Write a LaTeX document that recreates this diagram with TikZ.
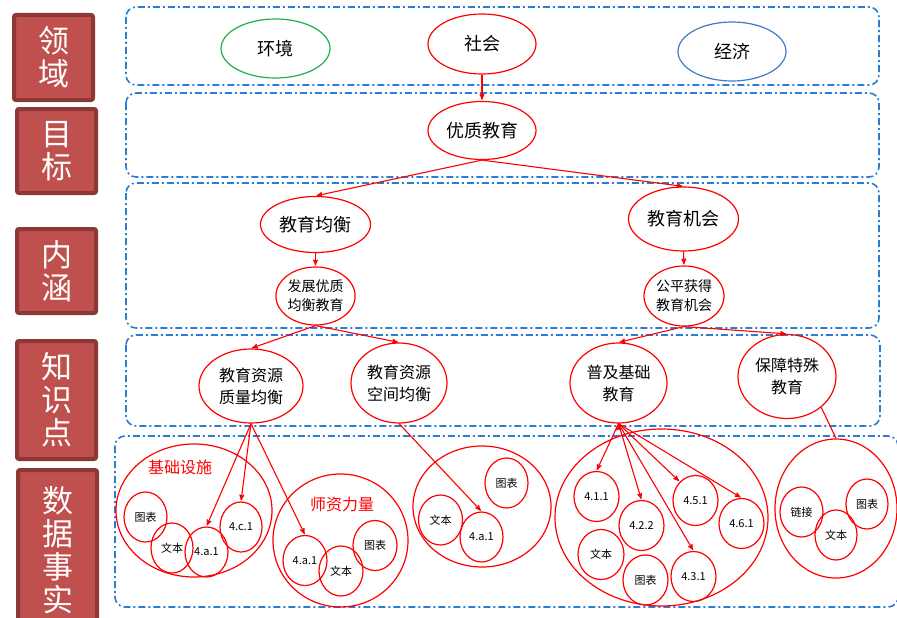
\documentclass[tikz,border=0pt]{standalone}
\usepackage{fontspec}
\setmainfont{Noto Sans CJK SC}
\usetikzlibrary{arrows,shapes.geometric}

\definecolor{boxfill}{HTML}{C0504D}
\definecolor{boxedge}{HTML}{8C3836}
\definecolor{laneblue}{HTML}{2A7DCF}
\definecolor{envgreen}{HTML}{1DB04E}
\definecolor{ecoblue}{HTML}{3C7BC0}

\begin{document}
\begin{tikzpicture}[x=1pt,y=-1pt,->,>=stealth',shorten >=1pt,
    level node/.style={rectangle,fill=boxfill,draw=boxedge,line width=4pt,
        rounded corners=2pt,text=white,align=center,inner sep=0pt,
        font=\fontsize{31}{33}\selectfont,minimum width=79pt},
    lane/.style={draw=laneblue,line width=1.6pt,rounded corners=10pt,
        dash pattern=on 7pt off 3pt on 2pt off 3pt},
    main node/.style={ellipse,draw=red,line width=1.2pt,inner sep=0pt,
        align=center,font=\fontsize{18}{20}\selectfont},
    sub node/.style={main node,font=\fontsize{14}{19}\selectfont},
    kp node/.style={main node,font=\fontsize{16}{22}\selectfont},
    group node/.style={ellipse,draw=red,line width=1.2pt,inner sep=0pt},
    fact node/.style={ellipse,draw=red,line width=1.2pt,inner sep=0pt,
        minimum width=44pt,minimum height=50pt,font=\fontsize{11}{12}\selectfont},
    group label/.style={text=red,font=\fontsize{16}{18}\selectfont}]

  \useasboundingbox (0,0) rectangle (897,618);

  % level boxes
  \node[level node,minimum height=85pt] (lvdomain) at (53.5,57.5) {领\\域};
  \node[level node,minimum height=84pt] (lvgoal) at (56.5,151) {目\\标};
  \node[level node,minimum height=84pt] (lvmeaning) at (56.5,271) {内\\涵};
  \node[level node,minimum height=118pt] (lvknow) at (56.5,400) {知\\识\\点};
  \node[level node,minimum height=160pt] (lvfact) at (57.5,550) {数\\据\\事\\实};

  % lanes
  \draw[lane,-] (126,7) rectangle (879,85);
  \draw[lane,-] (126,93) rectangle (879,177);
  \draw[lane,-] (126,183) rectangle (879,328);
  \draw[lane,-] (126,335) rectangle (880,426);
  \draw[lane,-] (115,436) rectangle (898,607);

  % domain and goal
  \node[main node,draw=envgreen,minimum width=109pt,minimum height=59pt] (huanjing) at (275.5,48.5) {环境};
  \node[main node,minimum width=108pt,minimum height=60pt] (shehui) at (482,44) {社会};
  \node[main node,draw=ecoblue,minimum width=108pt,minimum height=59pt] (jingji) at (732,51.5) {经济};
  \node[main node,minimum width=108pt,minimum height=58pt] (youzhi) at (482,130.5) {优质教育};

  % meaning
  \node[main node,minimum width=110pt,minimum height=56pt] (junheng) at (315.5,224.5) {教育均衡};
  \node[main node,minimum width=110pt,minimum height=64pt] (jihui) at (683.5,219) {教育机会};
  \node[sub node,minimum width=78pt,minimum height=58pt] (fazhan) at (315.5,296) {发展优质\\均衡教育};
  \node[sub node,minimum width=80pt,minimum height=60pt] (gongping) at (684,296) {公平获得\\教育机会};

  % knowledge points
  \node[kp node,minimum width=104pt,minimum height=74pt] (zhiliang) at (251,386) {教育资源\\质量均衡};
  \node[kp node,minimum width=96pt,minimum height=80pt] (kongjian) at (399,383) {教育资源\\空间均衡};
  \node[kp node,minimum width=97pt,minimum height=80pt] (puji) at (618.5,383) {普及基础\\教育};
  \node[kp node,minimum width=98pt,minimum height=84pt] (baozhang) at (787,376.5) {保障特殊\\教育};

  % fact groups
  \node[group node,minimum width=156pt,minimum height=133pt] (jichugrp) at (194,510.5) {};
  \node[group label] (jichulbl) at (180,467) {基础设施};
  \node[fact node,minimum width=43pt] (jctubiao) at (145.5,517) {图表};
  \node[fact node,minimum width=42pt] (jcwenben) at (172,548) {文本};
  \node[fact node,minimum width=43pt] (jca1) at (206.5,552) {4.a.1};
  \node[fact node,minimum width=42pt] (jcc1) at (241,527) {4.c.1};

  \node[group node,minimum width=135pt,minimum height=133pt] (shizigrp) at (340.5,540.5) {};
  \node[group label] (shizilbl) at (342,504) {师资力量};
  \node[fact node] (sza1) at (305,560.5) {4.a.1};
  \node[fact node] (szwenben) at (341,571) {文本};
  \node[fact node] (sztubiao) at (375,545.5) {图表};

  \node[group node,minimum width=138pt,minimum height=121pt] (kongjiangrp) at (482,506.5) {};
  \node[fact node] (kjwenben) at (440.5,520) {文本};
  \node[fact node,minimum width=43pt] (kja1) at (481.5,537) {4.a.1};
  \node[fact node,minimum width=43pt] (kjtubiao) at (506.5,483) {图表};

  \node[group node,minimum width=213pt,minimum height=177pt] (pujigrp) at (661.5,517.5) {};
  \node[fact node,minimum width=45pt] (p411) at (596.5,496.5) {4.1.1};
  \node[fact node,minimum width=45pt] (p422) at (641.5,525.5) {4.2.2};
  \node[fact node,minimum width=46pt] (pjwenben) at (601,554.5) {文本};
  \node[fact node,minimum width=45pt] (pjtubiao) at (645.5,580) {图表};
  \node[fact node,minimum width=45pt] (p431) at (693.5,576.5) {4.3.1};
  \node[fact node,minimum width=45pt] (p451) at (695.5,500.5) {4.5.1};
  \node[fact node,minimum width=45pt] (p461) at (741.5,523.5) {4.6.1};

  \node[group node,minimum width=122pt,minimum height=139pt] (baozhanggrp) at (836,508.5) {};
  \node[fact node,minimum width=43pt] (bzlianjie) at (801.5,512) {链接};
  \node[fact node,minimum width=42pt] (bzwenben) at (836,535) {文本};
  \node[fact node,minimum width=42pt] (bztubiao) at (867,504) {图表};

  % connectors
  \path[draw=red,line width=1.1pt]
  (shehui.south) edge (youzhi.north)
  (youzhi.south) edge (junheng.north)
  (youzhi.south) edge (jihui.north)
  (junheng.south) edge (fazhan.north)
  (jihui.south) edge (gongping.north)
  (fazhan.south) edge (zhiliang.north)
  (fazhan.south) edge (kongjian.north)
  (gongping.south) edge (puji.north)
  (gongping.south) edge (baozhang.north)
  (zhiliang.south) edge (jca1.north)
  (zhiliang.south) edge (jcc1.north)
  (zhiliang.south) edge (sza1.north)
  (kongjian.south) edge (kja1.north)
  (puji.south) edge (p411.north)
  (puji.south) edge (p422.north)
  (puji.south) edge (p431.north)
  (puji.south) edge (p451.130)
  (puji.south) edge (p461.north)
  ;
  \draw[red,line width=1.1pt,arrows=-,shorten >=0pt] (baozhang.-42) -- (baozhanggrp.north);
\end{tikzpicture}
\end{document}
